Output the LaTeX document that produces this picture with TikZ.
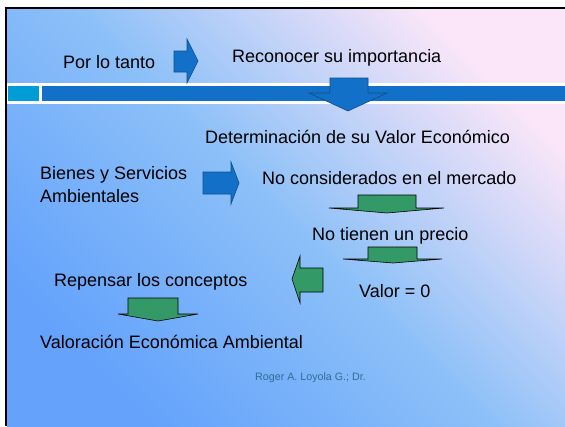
\documentclass[tikz,border=0pt]{standalone}
\usepackage{fontspec}
\setmainfont{Liberation Sans}
\definecolor{bandblue}{RGB}{18,112,200}
\definecolor{bandcyan}{RGB}{0,156,214}
\definecolor{arrowgreen}{RGB}{51,153,102}
\definecolor{signcolor}{RGB}{44,110,150}

\begin{document}
\begin{tikzpicture}[x=1pt,y=-1pt,
  txt/.style={anchor=base west,inner sep=0pt,font=\fontsize{18}{23}\selectfont},
  bluearrow/.style={fill=bandblue,draw=bandblue!70!black,line width=0.6pt},
  greenarrow/.style={fill=arrowgreen,draw=black,line width=0.6pt}]
\useasboundingbox (0,0) rectangle (565,426);
\fill[white] (0,0) rectangle (565,426);
\shade[bottom color={rgb,255:red,100;green,162;blue,252},top color={rgb,255:red,250;green,230;blue,248},middle color={rgb,255:red,140;green,192;blue,248},shading angle=-45] (7,9) rectangle (565,426);
\fill[white] (7,83) rectangle (565,104);
\fill[bandcyan] (8,86) rectangle (39,101);
\fill[bandblue] (42,86) rectangle (565,101);
\draw[line width=2.5pt] (6,426) -- (6,8) -- (565,8);

\draw[bluearrow] (174,51) -- (187,51) -- (187,39) -- (198,61) -- (187,83) -- (187,72) -- (174,72) -- cycle;
\draw[bluearrow] (330,78) -- (368,78) -- (368,93) -- (387,93) -- (348,111) -- (309,93) -- (330,93) -- cycle;
\draw[bluearrow] (203,172) -- (231,172) -- (231,162) -- (239,183) -- (231,204) -- (231,194) -- (203,194) -- cycle;
\draw[greenarrow] (358,195) -- (416,195) -- (416,208) -- (444,208) -- (387,213) -- (329,208) -- (358,208) -- cycle;
\draw[greenarrow] (368,247) -- (417,247) -- (417,259) -- (442,259) -- (393,263) -- (343,259) -- (368,259) -- cycle;
\draw[greenarrow] (323,268) -- (300,268) -- (300,256) -- (292,279) -- (300,303) -- (300,292) -- (323,292) -- cycle;
\draw[greenarrow] (128,298) -- (178,298) -- (178,314) -- (198,314) -- (158,321) -- (118,314) -- (128,314) -- cycle;

\node[txt] (portanto) at (63,68) {Por lo tanto};
\node[txt] (reconocer) at (232,62) {Reconocer su importancia};
\node[txt] (determinacion) at (205,143) {Determinación de su Valor Económico};
\node[txt,align=left,anchor=north west] (bienes) at (40,166) {Bienes y Servicios\\Ambientales};
\node[txt] (noconsiderados) at (262,184) {No considerados en el mercado};
\node[txt] (noprecio) at (312,240) {No tienen un precio};
\node[txt] (valorcero) at (359,297) {Valor = 0};
\node[txt] (repensar) at (54,286) {Repensar los conceptos};
\node[txt] (valoracion) at (40,348) {Valoración Económica Ambiental};
\node[txt,font=\fontsize{10.7}{13}\selectfont,text=signcolor] (autor) at (255,380) {Roger A. Loyola G.; Dr.};
\end{tikzpicture}
\end{document}
